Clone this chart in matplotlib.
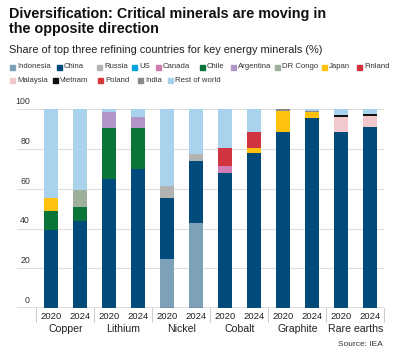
import matplotlib
matplotlib.use("Agg")
import matplotlib.pyplot as plt
import matplotlib.transforms as mtransforms
from matplotlib.patches import Rectangle
import numpy as np

plt.rcParams['font.family'] = ['Liberation Sans', 'DejaVu Sans']

# Chart data (share %, bars in order: 2020/2024 for each mineral)
minerals = ["Copper", "Lithium", "Nickel", "Cobalt", "Graphite", "Rare earths"]
years = ["2020", "2024"]
countries = ["Indonesia", "China", "Russia", "US", "Canada", "Chile", "Argentina",
             "DR Congo", "Japan", "Finland", "Malaysia", "Vietnam", "Poland",
             "India", "Rest of world"]
colors = ["#7EA1BA", "#004A7C", "#B3B3B3", "#00A3E0", "#CF7DB2", "#0B7438",
          "#B195C8", "#9DB09C", "#FFC20E", "#D0343E", "#F1C8CB", "#111111",
          "#D6373D", "#8A8A8A", "#A9D3EC"]

indonesia = [0, 0, 0, 0, 24.7, 42.6, 0, 0, 0, 0, 0, 0]
china = [39.2, 43.8, 64.7, 70.2, 30.7, 31.4, 67.7, 78.2, 88.7, 95.5, 88.4, 91.1]
russia = [0, 0, 0, 0, 5.9, 3.7, 0, 0, 0, 0, 0, 0]
us = [0, 0, 0, 0, 0, 0, 0, 0, 0, 0, 0, 0]
canada = [0, 0, 0, 0, 0, 0, 3.7, 0, 0, 0, 0, 0]
chile = [9.5, 7.2, 26.0, 20.5, 0, 0, 0, 0, 0, 0, 0, 0]
argentina = [0, 0, 8.1, 5.4, 0, 0, 0, 0, 0, 0, 0, 0]
dr_congo = [0, 8.2, 0, 0, 0, 0, 0, 0, 0, 0, 0, 0]
japan = [6.8, 0, 0, 0, 0, 0, 0, 2.2, 10.6, 2.9, 0, 0]
finland = [0, 0, 0, 0, 0, 0, 8.9, 8.2, 0, 0, 0, 0]
malaysia = [0, 0, 0, 0, 0, 0, 0, 0, 0, 0, 7.7, 5.5]
vietnam = [0, 0, 0, 0, 0, 0, 0, 0, 0, 0, 1.2, 1.2]
poland = [0, 0, 0, 0, 0, 0, 0, 0, 0, 0, 0, 0]
india = [0, 0, 0, 0, 0, 0, 0, 0, 0.7, 0.5, 0, 0]

series = [indonesia, china, russia, us, canada, chile, argentina, dr_congo,
          japan, finland, malaysia, vietnam, poland, india]
shares = np.array(series, dtype=float)
rest = 100 - shares.sum(axis=0)
shares = np.vstack([shares, rest])

W, H = 400, 357
fig = plt.figure(figsize=(W / 100, H / 100), dpi=100)
ax = fig.add_axes([17 / W, 49 / H, 367 / W, 198.7 / H])

x = np.arange(len(minerals) * len(years))
bottom = np.zeros(len(x))
for vals, col in zip(shares, colors):
    ax.bar(x, vals, width=0.5, bottom=bottom, color=col, linewidth=0, zorder=2)
    bottom += vals

ax.set_xlim(-1.172, 11.483)
ax.set_ylim(0, 100)
for s in ax.spines.values():
    s.set_visible(False)
ax.set_yticks([])
for v in [20, 40, 60, 80, 100]:
    ax.axhline(v, color="#dddddd", linewidth=0.8, zorder=1)
ax.axhline(0, color="#555555", linewidth=1.0, zorder=3)
for v in [0, 20, 40, 60, 80, 100]:
    ax.text(0.0354, v + 1.6, str(v), transform=ax.get_yaxis_transform(),
            ha="right", va="bottom", fontsize=6.3, color="#333333")

ax.set_xticks(x)
ax.set_xticklabels(years * len(minerals), fontsize=6.8, color="#222222")
ax.tick_params(axis="x", length=0, pad=3)

trans = mtransforms.blended_transform_factory(ax.transData, ax.transAxes)
for i, m in enumerate(minerals):
    ax.text(2 * i + 0.5, -0.107, m, transform=trans, ha="center", va="center",
            fontsize=7.6, color="#222222")
for b in np.arange(-0.5, 12, 2):
    ax.plot([b, b], [0, -0.072], transform=trans, color="#cccccc",
            linewidth=0.7, clip_on=False)

# Title and subtitle
fig.text(9 / W, 1 - 7 / H, "Diversification: Critical minerals are moving in\nthe opposite direction",
         ha="left", va="top", fontsize=10.4, fontweight="bold", color="#111111",
         linespacing=1.05)
fig.text(9 / W, 1 - 50 / H, "Share of top three refining countries for key energy minerals (%)",
         ha="left", va="center", fontsize=7.9, color="#222222")

# Legend
leg_x = [10, 57, 97, 132, 156, 200, 231, 275, 322, 357, 10, 53, 98, 138, 168]
leg_y = [67] * 10 + [80] * 5
for name, col, lx, ly in zip(countries, colors, leg_x, leg_y):
    fig.patches.append(Rectangle((lx / W, 1 - (ly + 2.5) / H), 5 / W, 5 / H,
                                 color=col, transform=fig.transFigure, figure=fig))
    fig.text((lx + 7) / W, 1 - ly / H, name, ha="left", va="center",
             fontsize=5.6, color="#333333")

fig.text(383 / W, 1 - 345 / H, "Source: IEA", ha="right", va="center",
         fontsize=6, color="#333333")

fig.savefig("out.png", dpi=100)
